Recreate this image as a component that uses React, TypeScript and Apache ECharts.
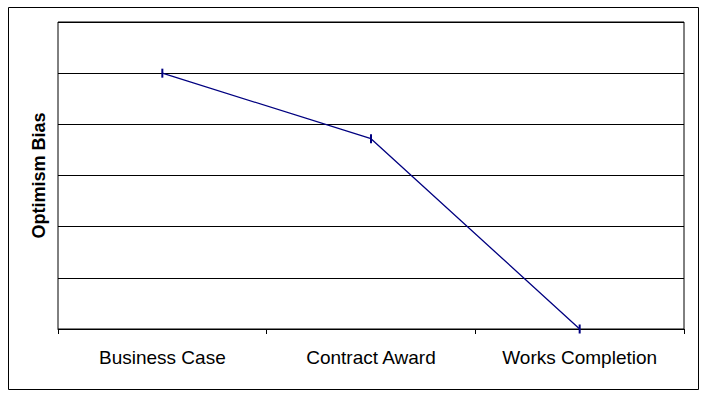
import React, { useEffect, useRef } from "react";
import * as echarts from "echarts";

const categories = ["Business Case", "Contract Award", "Works Completion"];
const biasValues = [5, 3.72, 0];
const yMin = 0;
const yMax = 6;
const yInterval = 1;
const yAxisTitle = "Optimism Bias";

export default function App() {
  const ref = useRef<HTMLDivElement>(null);
  useEffect(() => {
    if (!ref.current) return;
    const chart = echarts.init(ref.current, null, { renderer: "svg" });
    chart.setOption({
      animation: false,
      backgroundColor: "#ffffff",
      grid: {
        left: 58,
        top: 22,
        width: 626,
        height: 307,
        show: true,
        borderColor: "#000000",
        borderWidth: 1,
        backgroundColor: "transparent",
      },
      graphic: [
        {
          type: "rect",
          shape: { x: 8.5, y: 7.5, width: 690, height: 382 },
          style: { fill: "none", stroke: "#000000", lineWidth: 1 },
          silent: true,
          z: 0,
        },
      ],
      xAxis: {
        type: "category",
        data: categories,
        boundaryGap: true,
        axisLine: { show: true, lineStyle: { color: "#000000", width: 1 } },
        axisTick: { show: true, length: 5, lineStyle: { color: "#000000" } },
        axisLabel: {
          color: "#000000",
          fontFamily: "Liberation Sans, Arial, sans-serif",
          fontSize: 19,
          margin: 19,
        },
        splitLine: { show: false },
      },
      yAxis: {
        type: "value",
        min: yMin,
        max: yMax,
        interval: yInterval,
        name: yAxisTitle,
        nameLocation: "middle",
        nameGap: 10,
        nameTextStyle: {
          color: "#000000",
          fontFamily: "Liberation Sans, Arial, sans-serif",
          fontSize: 18,
          fontWeight: "bold",
        },
        axisLine: { show: false },
        axisTick: { show: false },
        axisLabel: { show: false },
        splitLine: { show: true, lineStyle: { color: "#000000", width: 1 } },
      },
      series: [
        {
          type: "line",
          data: biasValues,
          lineStyle: { color: "#000080", width: 1.3 },
          itemStyle: { color: "#000080" },
          symbol: "rect",
          symbolSize: [2, 9],
          showSymbol: true,
          z: 5,
        },
      ],
    });
    return () => chart.dispose();
  }, []);
  return (
    <div
      ref={ref}
      style={{ position: "fixed", left: 0, top: 0, width: 705, height: 397 }}
    />
  );
}
